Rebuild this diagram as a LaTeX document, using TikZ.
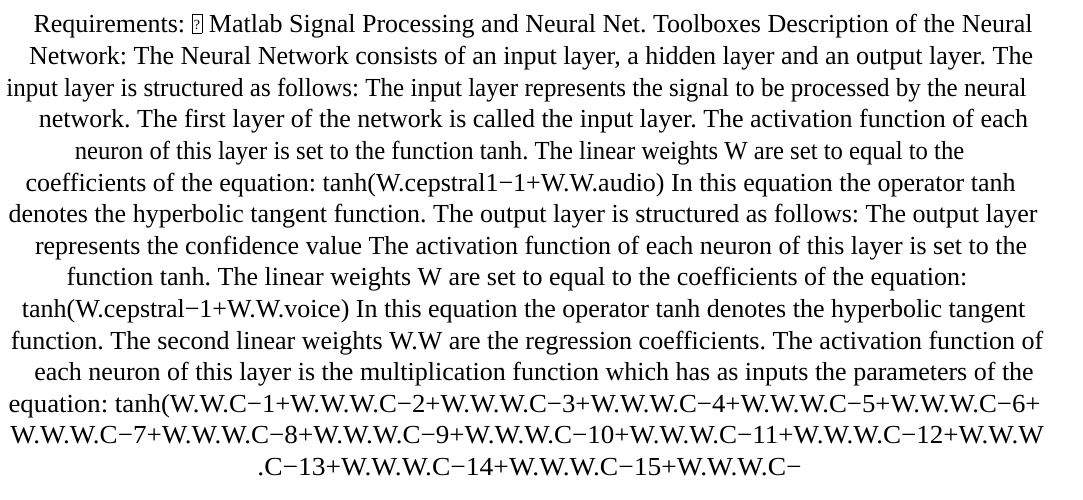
\documentclass[tikz,border=0pt]{standalone}
\usepackage{fontspec}
\setmainfont{Liberation Serif}
\usetikzlibrary{positioning}

% boxed question mark for the glyph the source font could not show
\newcommand{\missingglyph}{{\setlength{\fboxsep}{0pt}\setlength{\fboxrule}{0.9pt}%
  \fbox{\makebox[9pt]{\rule{0pt}{18.5pt}\raisebox{3pt}{\fontsize{14}{14}\selectfont ?}}}}}

\tikzstyle{textline} = [
  anchor=base,
  inner sep=0pt,
  text=black,
  font=\fontsize{26}{31.6}\selectfont\frenchspacing
]

\begin{document}
\begin{tikzpicture}
    \useasboundingbox [fill=white] (0,0) rectangle (1083pt,-500pt);

    \node (line1) [textline] at (533pt,-33pt) {Requirements: \missingglyph{} Matlab Signal Processing and Neural Net. Toolboxes Description of the Neural};
    \node (line2) [textline] at (531pt,-64.6pt) {Network: The Neural Network consists of an input layer, a hidden layer and an output layer. The};
    \node (line3) [textline] at (516.5pt,-96.2pt) {\scalebox{0.963}[1]{input layer is structured as follows: The input layer represents the signal to be processed by the neural}};
    \node (line4) [textline] at (533.5pt,-127.8pt) {network. The first layer of the network is called the input layer. The activation function of each};
    \node (line5) [textline] at (519.5pt,-159.4pt) {\scalebox{0.949}[1]{neuron of this layer is set to the function tanh. The linear weights W are set to equal to the}};
    \node (line6) [textline] at (520.5pt,-191pt) {coefficients of the equation: tanh(W.cepstral1−1+W.W.audio) In this equation the operator tanh};
    \node (line7) [textline] at (523pt,-222.6pt) {denotes the hyperbolic tangent function. The output layer is structured as follows: The output layer};
    \node (line8) [textline] at (531pt,-254.2pt) {represents the confidence value The activation function of each neuron of this layer is set to the};
    \node (line9) [textline] at (517pt,-285.8pt) {function tanh. The linear weights W are set to equal to the coefficients of the equation:};
    \node (line10) [textline] at (523.5pt,-317.4pt) {tanh(W.cepstral−1+W.W.voice) In this equation the operator tanh denotes the hyperbolic tangent};
    \node (line11) [textline] at (527pt,-349pt) {function. The second linear weights W.W are the regression coefficients. The activation function of};
    \node (line12) [textline] at (534pt,-380.6pt) {each neuron of this layer is the multiplication function which has as inputs the parameters of the};
    \node (line13) [textline] at (524.5pt,-412.2pt) {\scalebox{1.03}[1]{equation: tanh(W.W.C−1+W.W.W.C−2+W.W.W.C−3+W.W.W.C−4+W.W.W.C−5+W.W.W.C−6+}};
    \node (line14) [textline] at (527pt,-443.8pt) {\scalebox{1.04}[1]{W.W.W.C−7+W.W.W.C−8+W.W.W.C−9+W.W.W.C−10+W.W.W.C−11+W.W.W.C−12+W.W.W}};
    \node (line15) [textline] at (529.5pt,-475.4pt) {\scalebox{1.058}[1]{.C−13+W.W.W.C−14+W.W.W.C−15+W.W.W.C−}};
\end{tikzpicture}
\end{document}
